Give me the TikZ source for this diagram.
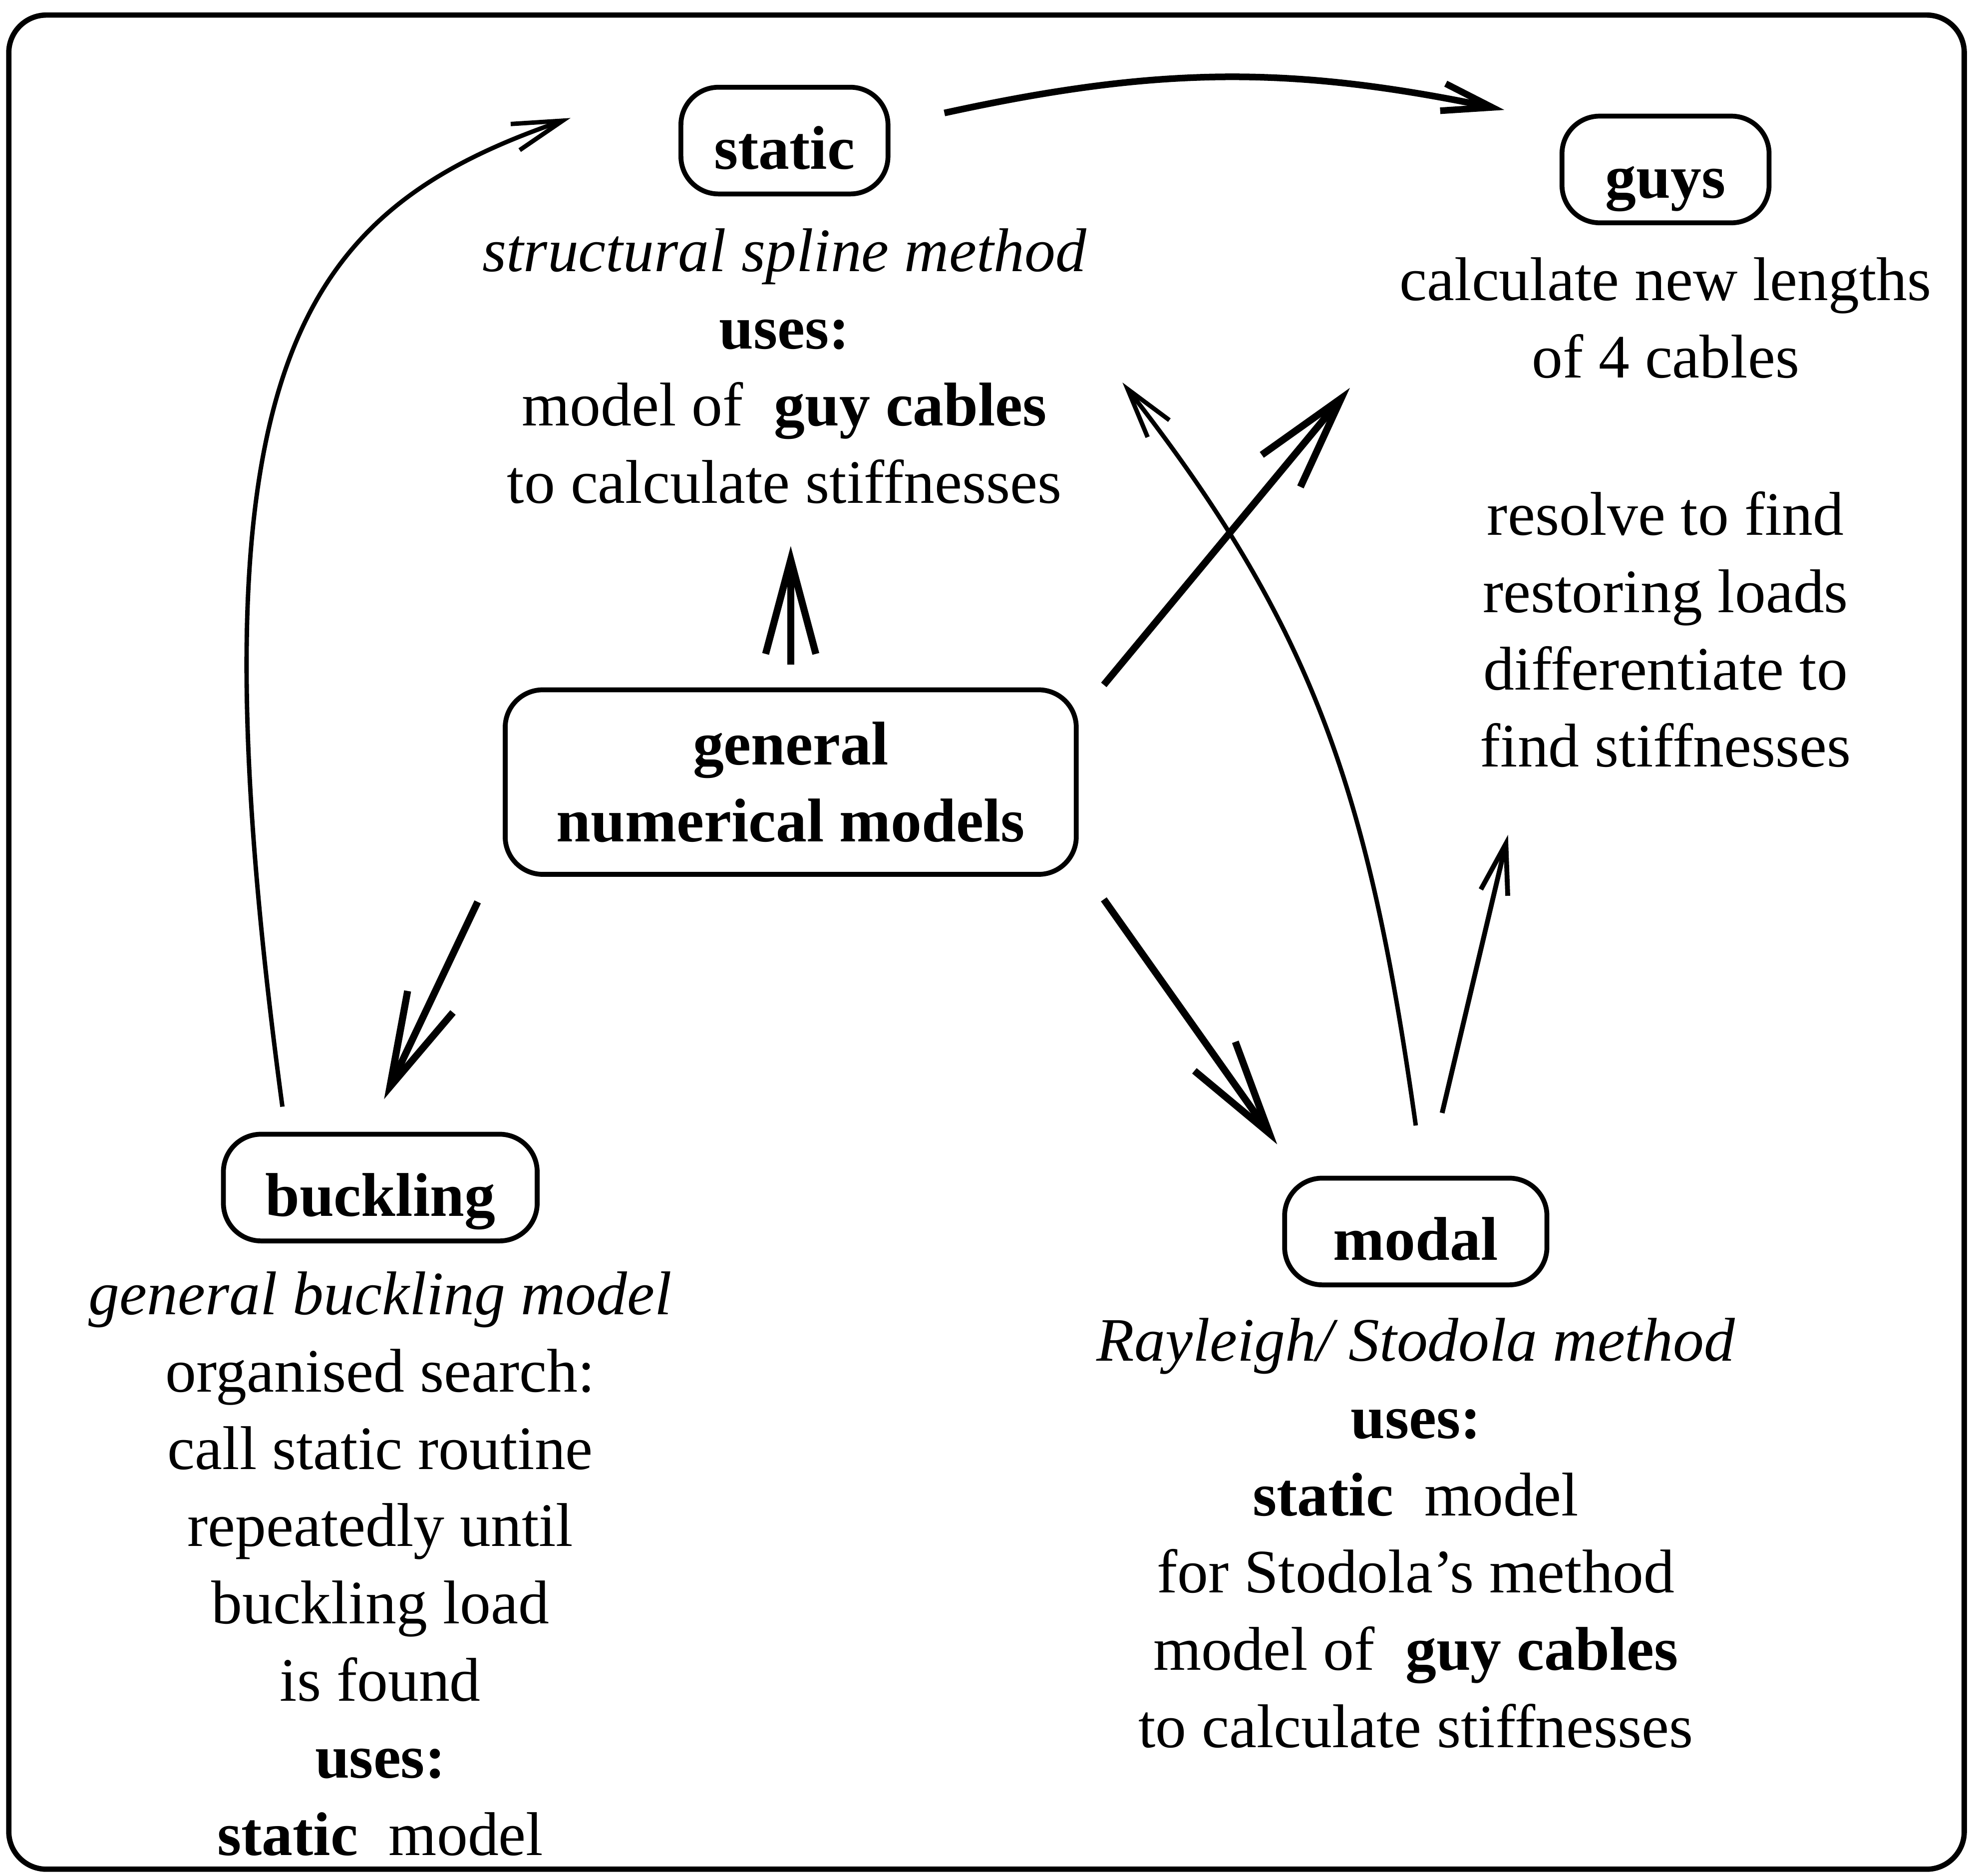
\documentclass[tikz,border=0pt]{standalone}
\usepackage{fontspec}
\setmainfont{Liberation Serif}
\usepackage{tikz}
\usetikzlibrary{arrows.meta, positioning}

\begin{document}
\begin{tikzpicture}[
      node distance=2.5mm,
      every node/.style={font=\fontsize{14}{17.5}\selectfont, inner sep=0pt},
      box/.style={draw, rounded corners=3mm, line width=1.1pt, minimum height=0.85cm, font=\fontsize{14}{17.5}\selectfont\bfseries},
      onebox/.style={box, text height=13pt, text depth=0pt},
      txt/.style={align=center},
      arrow/.style={-{Straight Barb[length=7.5mm, width=4mm]}, line width=1.6pt},
      thinarrow/.style={-{Straight Barb[length=4mm, width=2.2mm]}, line width=1pt}
    ]
        \useasboundingbox (0,0) rectangle (15.68,14.94);
        \draw[line width=1.2pt, rounded corners=3mm] (0.07,0.05) rectangle (15.65,14.82);

        \node[box, align=center, minimum width=4.55cm, minimum height=1.47cm] (general) at (6.30,8.71) {general\\numerical models};
        \node[onebox, minimum width=1.65cm] (static) at (6.25,13.82) {static};
        \node[onebox, minimum width=1.65cm] (guys) at (13.27,13.59) {guys};
        \node[onebox, minimum width=2.5cm] (buckling) at (3.03,5.48) {buckling};
        \node[onebox, minimum width=2.09cm] (modal) at (11.28,5.13) {modal};

        \node[txt, below=2.5mm of static] (statictxt) {\textit{structural spline method}\\\textbf{uses:}\\model of~\ \textbf{guy cables}\\to calculate stiffnesses};
        \node[txt, below=2.5mm of guys] (guystxt) {calculate new lengths\\of 4 cables};
        \node[txt, below=8.9mm of guystxt] (resolvetxt) {resolve to find\\restoring loads\\differentiate to\\find stiffnesses};
        \node[txt, below=2.2mm of buckling] (bucklingtxt) {\textit{general buckling model}\\organised search:\\call static routine\\repeatedly until\\buckling load\\is found\\\textbf{uses:}\\\textbf{static}~\ model};
        \node[txt, below=2.4mm of modal] (modaltxt) {\textit{Rayleigh/ Stodola method}\\\textbf{uses:}\\\textbf{static}~\ model\\for Stodola’s method\\model of~\ \textbf{guy cables}\\to calculate stiffnesses};

        \draw[thinarrow, line width=1.5pt] ([shift={(4.3mm,2.2mm)}]static.east) to[bend left=12] ([shift={(-4.4mm,0.3mm)}]guys.north west);
        \draw[thinarrow] ([shift={(-7.8mm,2mm)}]buckling.north) .. controls +(97.7:5.96) and +(199:2.3) .. ([shift={(-8.6mm,1.8mm)}]static.west);
        \draw[arrow, shorten <=1.8mm, shorten >=3.3mm] (general.north) -- (general.north |- statictxt.south);
        \draw[arrow] ([shift={(2mm,0.2mm)}]general.north east) -- ([shift={(-3.9mm,-0.7mm)}]guystxt.south west);
        \draw[arrow] ([shift={(-2mm,-2mm)}]general.south west) -- ([shift={(0.3mm,2.6mm)}]buckling.north);
        \draw[arrow] ([shift={(2mm,-1.8mm)}]general.south east) -- ([shift={(-0.4mm,2.5mm)}]modal.north west);
        \draw[thinarrow] ([yshift=4mm]modal.north) .. controls +(98:2.65) and +(-52:2.5) .. ([shift={(2.8mm,-1.3mm)}]statictxt.east);
        \draw[thinarrow, line width=1.1pt] ([shift={(2.1mm,5mm)}]modal.north) -- ([shift={(2.3mm,-5.3mm)}]resolvetxt.south west);
    \end{tikzpicture}
\end{document}
